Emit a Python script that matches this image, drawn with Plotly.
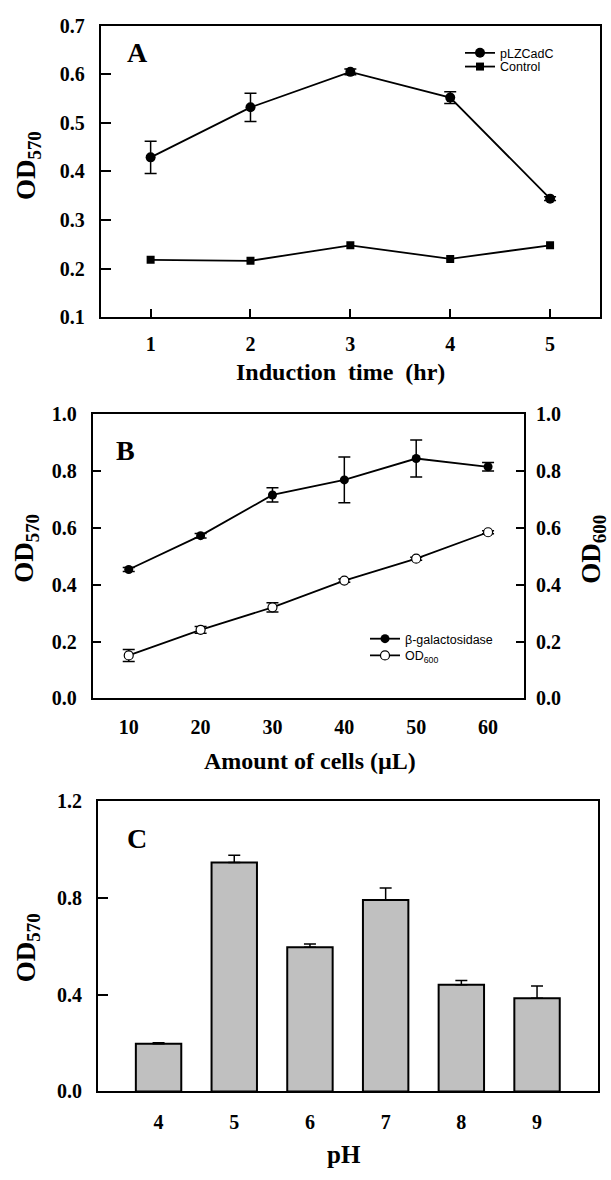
import plotly.graph_objects as go

# ---------------- data ----------------
# Panel A
time_hr = [1, 2, 3, 4, 5]
plz_cadc = [0.429, 0.532, 0.605, 0.552, 0.344]
plz_cadc_err = [0.033, 0.029, 0.006, 0.012, 0.004]
control = [0.218, 0.216, 0.248, 0.220, 0.248]

# Panel B
cells_ul = [10, 20, 30, 40, 50, 60]
beta_gal = [0.453, 0.572, 0.715, 0.768, 0.843, 0.814]
beta_gal_err = [0.007, 0.008, 0.025, 0.080, 0.065, 0.015]
od600 = [0.151, 0.241, 0.320, 0.414, 0.491, 0.584]
od600_err = [0.021, 0.012, 0.016, 0.006, 0.005, 0.005]

# Panel C
ph_values = [4, 5, 6, 7, 8, 9]
ph_od570 = [0.197, 0.947, 0.597, 0.792, 0.442, 0.386]
ph_err = [0.005, 0.030, 0.013, 0.050, 0.017, 0.050]

yticks_a = [0.1, 0.2, 0.3, 0.4, 0.5, 0.6, 0.7]
yticks_b = [0.0, 0.2, 0.4, 0.6, 0.8, 1.0]
yticks_c = [0.0, 0.4, 0.8, 1.2]

# ---------------- layout helpers ----------------
W, H = 611, 1180
def px(x):
    return x / W
def py(y):
    return 1 - y / H

SERIF = "Liberation Serif, Times New Roman, serif"
SANS = "Liberation Sans, Arial, sans-serif"
TICKFONT = dict(family=SERIF, size=20, color="black", weight="bold")

fig = go.Figure()

# Panel A traces
fig.add_trace(go.Scatter(
    x=time_hr, y=plz_cadc, name="pLZCadC", mode="lines+markers",
    line=dict(color="black", width=1.8),
    marker=dict(symbol="circle", size=10, color="black"),
    error_y=dict(type="data", array=plz_cadc_err, color="black", thickness=1.5, width=6),
    xaxis="x", yaxis="y", legend="legend"))
fig.add_trace(go.Scatter(
    x=time_hr, y=control, name="Control", mode="lines+markers",
    line=dict(color="black", width=1.8),
    marker=dict(symbol="square", size=8, color="black"),
    xaxis="x", yaxis="y", legend="legend3"))

# Panel B traces
fig.add_trace(go.Scatter(
    x=cells_ul, y=beta_gal, name="β-galactosidase", mode="lines+markers",
    line=dict(color="black", width=1.8),
    marker=dict(symbol="circle", size=9, color="black"),
    error_y=dict(type="data", array=beta_gal_err, color="black", thickness=1.5, width=6),
    xaxis="x2", yaxis="y2", legend="legend2"))
fig.add_trace(go.Scatter(
    x=cells_ul, y=od600, name="OD<sub>600</sub>", mode="lines+markers",
    line=dict(color="black", width=1.8),
    marker=dict(symbol="circle", size=9, color="white", line=dict(color="black", width=1.2)),
    error_y=dict(type="data", array=od600_err, color="black", thickness=1.5, width=6),
    xaxis="x2", yaxis="y3", legend="legend4"))

# Panel C bars
fig.add_trace(go.Bar(
    x=ph_values, y=ph_od570, width=0.6, showlegend=False,
    marker=dict(color="#c0c0c0", line=dict(color="black", width=2)),
    error_y=dict(type="data", array=ph_err, arrayminus=[0] * len(ph_err), symmetric=False,
                 color="black", thickness=1.5, width=6),
    xaxis="x3", yaxis="y4"))

axis_common = dict(showline=True, linecolor="black", linewidth=2, showgrid=False,
                   zeroline=False, tickfont=TICKFONT, ticks="inside", tickcolor="black",
                   tickwidth=1.5)

def leg(x, y):
    return dict(x=px(x), y=py(y), xanchor="left", yanchor="middle",
                bgcolor="rgba(0,0,0,0)", font=dict(family=SANS, size=12.5, color="black"),
                tracegroupgap=0, itemwidth=30, borderwidth=0)

fig.update_layout(
    width=W, height=H,
    margin=dict(l=0, r=0, t=0, b=0),
    paper_bgcolor="white", plot_bgcolor="white",
    showlegend=True,
    # Panel A
    xaxis=dict(axis_common, domain=[px(100.7), px(600)], anchor="y", range=[0.5, 5.5],
               tickvals=time_hr, ticklen=8, mirror=True, ticklabelstandoff=8),
    yaxis=dict(axis_common, domain=[py(312), py(15)], anchor="x", range=[0.1, 0.7],
               tickvals=yticks_a, ticktext=[f"{v:.1f}" for v in yticks_a], ticklen=10,
               mirror=True, ticklabelstandoff=10),
    # Panel B
    xaxis2=dict(axis_common, domain=[px(92.8), px(524)], anchor="y2", range=[5, 65],
                tickvals=cells_ul, ticks="", mirror=True, ticklabelstandoff=10),
    yaxis2=dict(axis_common, domain=[py(700.5), py(410.5)], anchor="x2", range=[0, 1.0],
                tickvals=yticks_b, ticktext=[f"{v:.1f}" for v in yticks_b], ticklen=8,
                ticklabelstandoff=10),
    yaxis3=dict(axis_common, overlaying="y2", side="right", anchor="x2", range=[0, 1.0],
                tickvals=yticks_b, ticktext=[f"{v:.1f}" for v in yticks_b], ticklen=8,
                ticklabelstandoff=6),
    # Panel C
    xaxis3=dict(axis_common, domain=[px(98), px(597.6)], anchor="y4", range=[3.2, 9.8],
                tickvals=ph_values, ticks="", mirror=True, ticklabelstandoff=12),
    yaxis4=dict(axis_common, domain=[py(1101), py(805.5)], anchor="x3", range=[0, 1.2],
                tickvals=yticks_c, ticktext=[f"{v:.1f}" for v in yticks_c], ticklen=10,
                mirror=True, ticklabelstandoff=10),
    legend=leg(460, 43),
    legend3=leg(460, 57),
    legend2=leg(365, 640),
    legend4=leg(365, 657),
)

ann = []
def add_text(x, y, text, size, angle=0, family=SERIF):
    ann.append(dict(x=px(x), y=py(y), xref="paper", yref="paper", text=text,
                    showarrow=False, textangle=angle, xanchor="center", yanchor="middle",
                    font=dict(family=family, size=size, color="black")))

# Panel letters
add_text(137, 42, "<b>A</b>", 28)
add_text(125, 448, "<b>B</b>", 28)
add_text(137, 843, "<b>C</b>", 28)
# axis titles
add_text(28, 158, "<b>OD<sub>570</sub></b>", 27, -90)
add_text(340, 368, "<b>Induction  time  (hr)</b>", 24)
add_text(26, 548, "<b>OD<sub>570</sub></b>", 27, -90)
add_text(593, 549, "<b>OD<sub>600</sub></b>", 27, -90)
add_text(310, 764, "<b>Amount of cells (µL)</b>", 24)
add_text(28, 955, "<b>OD<sub>570</sub></b>", 27, -90)
add_text(344, 1165, "<b>pH</b>", 25)

fig.update_layout(annotations=ann)

fig.write_html("out.html", config={"displayModeBar": False},
               post_script="document.body.style.margin='0px';document.body.style.overflow='hidden';")
